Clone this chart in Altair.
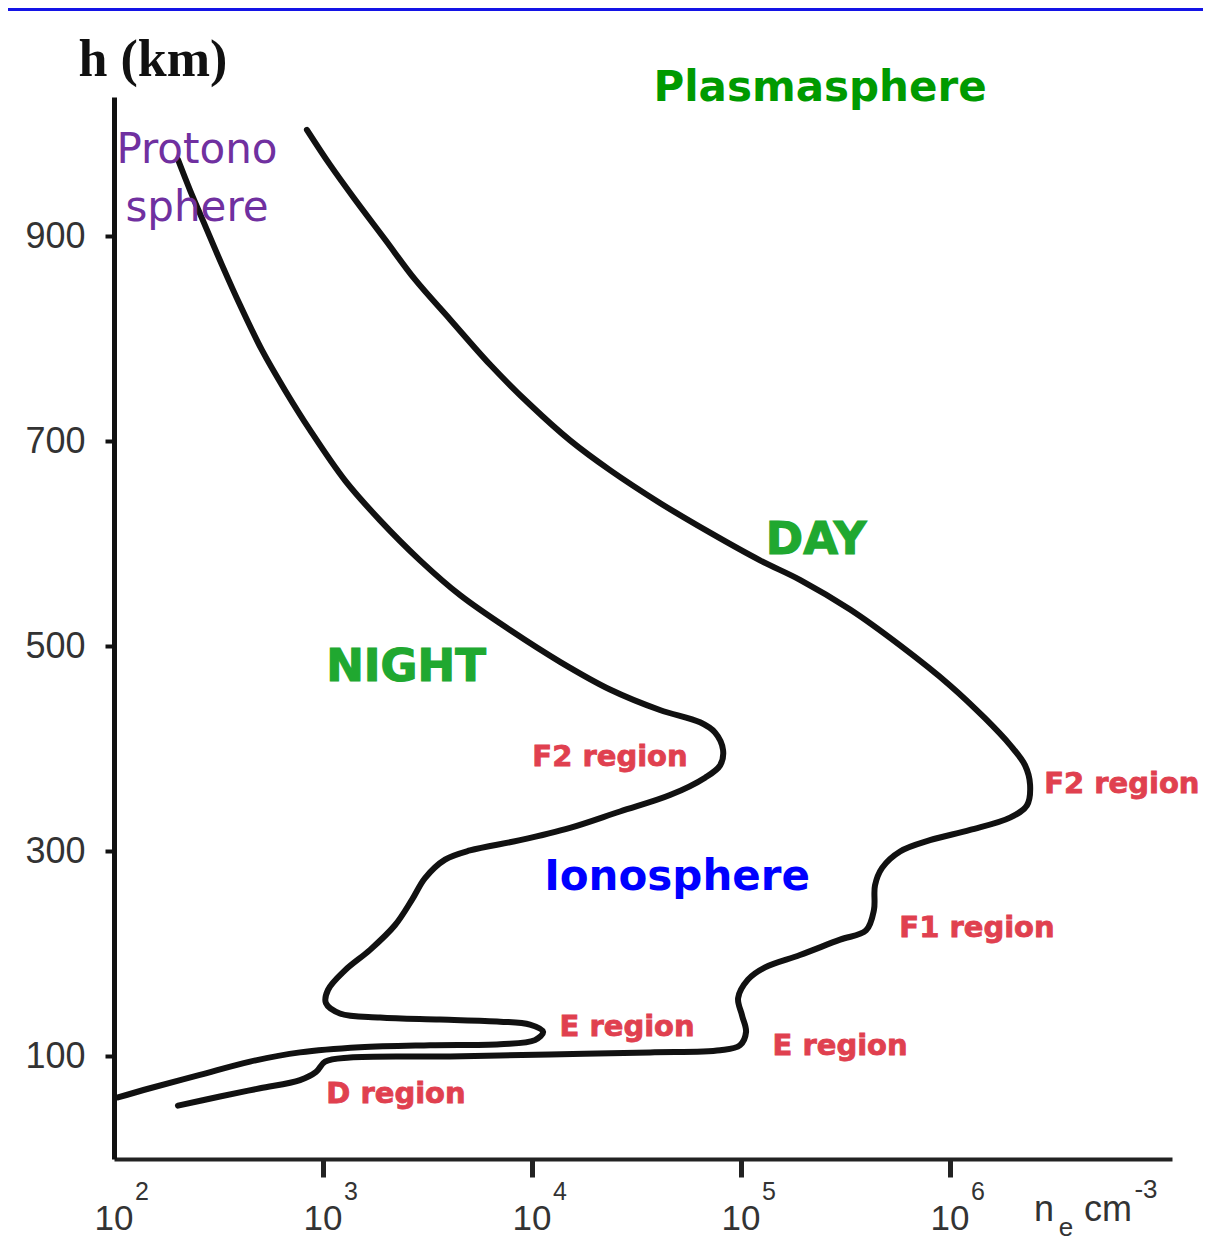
import altair as alt
import pandas as pd

# ---- data (log10 of electron density, height in km) ----
night_log_ne = [2.306, 2.364, 2.435, 2.517, 2.603, 2.708, 2.818, 2.938, 3.105, 3.273,
                3.464, 3.656, 3.895, 4.134, 4.373, 4.612, 4.804, 4.876, 4.914, 4.900,
                4.828, 4.660, 4.421, 4.182, 3.943, 3.703, 3.584, 3.488, 3.426, 3.344,
                3.225, 3.105, 3.024, 3.014, 3.081, 3.273, 3.560, 3.847, 3.990, 4.053,
                4.014, 3.847, 3.512, 3.177, 2.890, 2.651, 2.411, 2.172, 2.019]
night_h = [975, 945, 911, 872, 833, 789, 750, 711, 662, 623,
           584, 550, 516, 485, 458, 438, 426, 416, 399, 384,
           372, 355, 339, 323, 311, 301, 292, 274, 253, 228,
           204, 184, 165, 152, 142, 138, 136, 134, 131, 124,
           116, 112, 111, 109, 104, 95, 82, 69, 60]

day_log_ne = [2.923, 3.033, 3.153, 3.297, 3.440, 3.608, 3.799, 3.990, 4.182, 4.373,
              4.612, 4.852, 5.091, 5.282, 5.522, 5.761, 6.000, 6.167, 6.287, 6.359,
              6.383, 6.368, 6.287, 6.096, 5.904, 5.761, 5.675, 5.641, 5.636, 5.598,
              5.474, 5.282, 5.115, 5.033, 4.986, 5.005, 5.024, 4.995, 4.900, 4.565,
              4.086, 3.608, 3.129, 3.010, 2.967, 2.890, 2.699, 2.507, 2.306]
day_h = [1004, 970, 936, 897, 858, 819, 775, 736, 701, 672,
         640, 611, 584, 565, 536, 501, 462, 430, 404, 384,
         365, 345, 333, 321, 311, 300, 284, 267, 243, 223,
         214, 199, 187, 175, 157, 140, 124, 111, 106, 104,
         102, 100, 99, 95, 85, 77, 69, 61, 52]

x_exponents = [2, 3, 4, 5, 6]
x_tick_exponents = [3, 4, 5, 6]
y_ticks = [100, 300, 500, 700, 900]

region_text = ["F2 region", "F2 region", "F1 region", "E region", "E region", "D region"]
region_log_ne = [4.373, 6.822, 6.129, 4.455, 5.474, 3.349]
region_h = [392, 366, 225, 129, 110, 63]

daynight_text = ["NIGHT", "DAY"]
daynight_log_ne = [3.397, 5.359]
daynight_h = [480, 604]

sphere_text = ["Plasmasphere", "Ionosphere"]
sphere_log_ne = [5.378, 4.694]
sphere_h = [1045, 275]
sphere_color = ["#009a00", "#0000ff"]

proto_text = ["Protono", "sphere"]
proto_log_ne = [2.397, 2.397]
proto_h = [984, 928]

# ---- tables ----
rows = []
for i, (l, h) in enumerate(zip(night_log_ne, night_h)):
    rows.append({"series": "NIGHT", "i": i, "ne": 10 ** l, "h": h})
for i, (l, h) in enumerate(zip(day_log_ne, day_h)):
    rows.append({"series": "DAY", "i": i, "ne": 10 ** l, "h": h})
curves = pd.DataFrame(rows)

xlab = pd.DataFrame({"ne": [10 ** e for e in x_exponents], "exp": [str(e) for e in x_exponents]})
regions = pd.DataFrame({"t": region_text, "ne": [10 ** v for v in region_log_ne], "h": region_h})
daynight = pd.DataFrame({"t": daynight_text, "ne": [10 ** v for v in daynight_log_ne], "h": daynight_h})
spheres = pd.DataFrame({"t": sphere_text, "ne": [10 ** v for v in sphere_log_ne], "h": sphere_h, "c": sphere_color})
proto = pd.DataFrame({"t": proto_text, "ne": [10 ** v for v in proto_log_ne], "h": proto_h})
one = pd.DataFrame({"a": [0]})

W, H = 1058, 1062
PAD = {"left": 106, "top": 89, "right": 31, "bottom": 87}
xs = alt.Scale(type="log", domain=[100, 10 ** 7.062], nice=False)
ys = alt.Scale(domain=[0, 1036], nice=False)

XAXIS = alt.Axis(
    values=[10 ** e for e in x_tick_exponents], labels=False, title=None, grid=False,
    domainWidth=4, domainColor="#222222", tickSize=18, tickWidth=5, tickColor="#222222")
YAXIS = alt.Axis(
    values=y_ticks, title=None, grid=False, domainWidth=5, domainColor="#111111",
    tickSize=9, tickWidth=4, tickColor="#111111", labelFontSize=36,
    labelFont="Liberation Sans", labelColor="#333333", labelPadding=20)


def X():
    return alt.X("ne:Q", scale=xs, axis=XAXIS)


def Y():
    return alt.Y("h:Q", scale=ys, axis=YAXIS)


lines = alt.Chart(curves).mark_line(
    color="#111111", strokeWidth=6, strokeJoin="round", strokeCap="round", interpolate="catmull-rom"
).encode(x=X(), y=Y(), detail="series:N", order="i:Q")

ten = alt.Chart(xlab).mark_text(
    text="10", fontSize=35, font="Liberation Sans", color="#333333", align="center", baseline="middle"
).encode(x=X(), y=alt.value(1122))

sup = alt.Chart(xlab).mark_text(
    fontSize=25, font="Liberation Sans", color="#333333", align="center", baseline="middle", dx=28
).encode(x=X(), y=alt.value(1095), text="exp:N")


def txt(df, **kw):
    return alt.Chart(df).mark_text(align="center", baseline="middle", **kw).encode(
        x=X(), y=Y(), text="t:N")


reg = txt(regions, font="DejaVu Sans", fontWeight="bold", fontSize=29, color="#e0404f",
          stroke="#e0404f", strokeWidth=0.8)
dn = txt(daynight, font="DejaVu Sans", fontWeight="bold", fontSize=45, color="#20a830",
         stroke="#20a830", strokeWidth=1.2)
sph = alt.Chart(spheres).mark_text(
    align="center", baseline="middle", font="DejaVu Sans", fontWeight="bold", fontSize=42
).encode(x=X(), y=Y(), text="t:N", color=alt.Color("c:N", scale=None))
pro = txt(proto, font="DejaVu Sans", fontSize=42, color="#7030a0")


def lbl(t, x, y, size, **kw):
    return alt.Chart(one).mark_text(text=t, fontSize=size, align="center", baseline="middle", **kw).encode(
        x=alt.value(x), y=alt.value(y))


htitle = lbl("h (km)", 39, -37, 52, font="Liberation Serif", fontWeight="bold", color="#111111")
n_t = lbl("n", 930, 1113, 36, font="Liberation Sans", color="#333333")
e_t = lbl("e", 952, 1131, 26, font="Liberation Sans", color="#333333")
cm_t = lbl("cm", 994, 1113, 36, font="Liberation Sans", color="#333333")
m3_t = lbl("-3", 1032, 1093, 26, font="Liberation Sans", color="#333333")

band = alt.Chart(one).mark_rect(color="#1414e6").encode(
    x=alt.value(-PAD["left"]), x2=alt.value(W + PAD["right"]),
    y=alt.value(-PAD["top"]), y2=alt.value(-PAD["top"] + 3))

chart = alt.layer(
    lines, ten, sup, reg, dn, sph, pro, htitle, n_t, e_t, cm_t, m3_t, band
).properties(
    width=W, height=H, padding=PAD, autosize=alt.AutoSizeParams(type="none"), background="white"
).configure_view(stroke=None)

chart.save("out.html", embed_options={"renderer": "svg", "actions": False})
